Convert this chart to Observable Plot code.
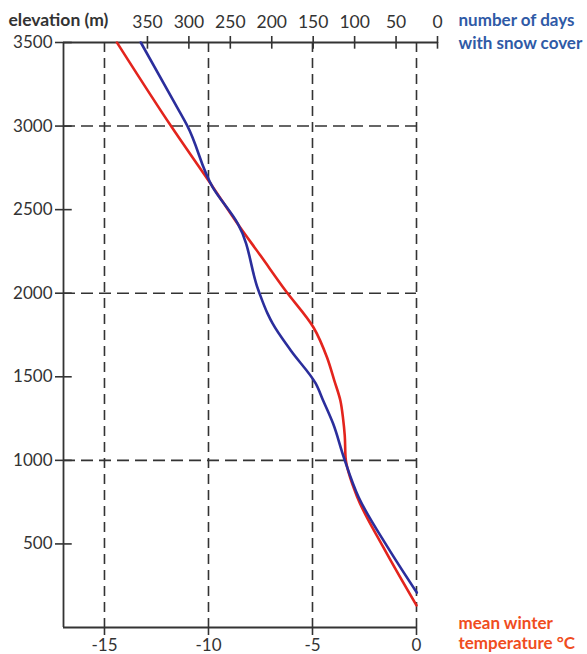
<!DOCTYPE html>
<html>
<head>
<meta charset="utf-8">
<script src="https://cdn.jsdelivr.net/npm/d3@7"></script>
<script src="https://cdn.jsdelivr.net/npm/@observablehq/plot@0.6"></script>
<style>
  html, body { margin: 0; padding: 0; background: #fff; }
  #chart svg { display: block; }
</style>
</head>
<body>
<div id="chart"></div>
<script>
// ---- data ----
const elevTicks = [500, 1000, 1500, 2000, 2500, 3000, 3500];
const tempTicks = [-15, -10, -5, 0];
const dayTicks = [350, 300, 250, 200, 150, 100, 50, 0];
const gridElev = [1000, 2000, 3000];

// mean winter temperature (°C) vs elevation (m)
const redElev = [132, 479, 778, 1017, 1150, 1250, 1358, 1477, 1615, 1795, 2016, 2225, 2417, 2630, 3000, 3500];
const redTemp = [0, -1.59, -2.84, -3.41, -3.45, -3.53, -3.66, -3.95, -4.3, -4.95, -6.3, -7.5, -8.61, -9.76, -11.8, -14.4];

// number of days with snow cover vs elevation (m)
const blueElev = [209, 479, 778, 1017, 1220, 1358, 1460, 1657, 1819, 1878, 2016, 2417, 2632, 3003, 3111, 3500];
const blueDays = [25, 60, 95, 113, 126, 138, 147, 177, 199, 205, 216, 241, 271, 302, 314, 358];

// ---- layout of the two x axes (top axis: days, bottom: temperature) ----
const dayToT = d => 1.0096 - 0.03984 * d;   // days axis position in temperature units
const tToDay = t => (1.0096 - t) / 0.03984;
const xMin = -16.97, xMax = dayToT(0);

const red = redElev.map((e, i) => ({e, t: redTemp[i]}));
const blue = blueElev.map((e, i) => ({e, d: blueDays[i]}));

const ink = "#333";
const dash = "10,6";
const fs = 17;

const chart = Plot.plot({
  width: 587,
  height: 654,
  marginLeft: 63,
  marginRight: 150,
  marginTop: 42,
  marginBottom: 27,
  style: {fontFamily: "Lato, 'Open Sans', sans-serif", fontSize: fs + "px", color: ink, background: "#fff"},
  x: {domain: [xMin, xMax]},
  y: {domain: [0, 3500]},
  marks: [
    // dashed grid
    Plot.ruleX(tempTicks, {x: d => d, y1: 3500, y2: 0, stroke: ink, strokeWidth: 1.6, strokeDasharray: dash}),
    Plot.ruleY(gridElev, {y: d => d, x1: xMin, x2: 0, stroke: ink, strokeWidth: 1.6, strokeDasharray: "12,6"}),
    // axis lines
    Plot.ruleX([xMin], {y1: 0, y2: 3500, stroke: ink, strokeWidth: 1.8}),
    Plot.ruleY([0], {x1: xMin, x2: 0, stroke: ink, strokeWidth: 1.8}),
    Plot.ruleY([3500], {x1: xMin, x2: xMax, stroke: ink, strokeWidth: 1.8}),
    // left axis
    Plot.axisY({ticks: elevTicks, anchor: "left", tickSize: 8, tickPadding: 3, tickFormat: d => String(d), label: null, color: ink, strokeWidth: 1.6, fontSize: fs}),
    Plot.ruleY(elevTicks, {y: d => d, x1: xMin, x2: xMin + 0.42, stroke: ink, strokeWidth: 1.6}),
    // bottom axis (temperature)
    Plot.axisX({ticks: tempTicks, anchor: "bottom", tickSize: 8, tickPadding: 3, tickFormat: d => String(d), label: null, color: ink, strokeWidth: 1.6, fontSize: fs}),
    // top axis (days)
    Plot.axisX({ticks: dayTicks.map(dayToT), anchor: "top", tickSize: 7, tickPadding: 8, tickFormat: t => String(Math.round(tToDay(t))), label: null, color: ink, strokeWidth: 1.6, fontSize: 17.5}),
    Plot.ruleX(dayTicks.map(dayToT), {x: d => d, y1: 3500, y2: 3460, stroke: ink, strokeWidth: 1.6}),
    // data lines
    Plot.line(red, {x: "t", y: "e", stroke: "#e3241d", strokeWidth: 2.6, curve: "monotone-y"}),
    Plot.line(blue, {x: d => dayToT(d.d), y: "e", stroke: "#2b2e9c", strokeWidth: 2.6, curve: "monotone-y"}),
    // titles
    Plot.text(["elevation (m)"], {frameAnchor: "top-left", dx: -55, dy: -22, lineAnchor: "middle", textAnchor: "start", fontWeight: "bold", fontSize: 17.5, fill: "#333"}),
    Plot.text(["number of days"], {frameAnchor: "top-right", dx: 21, dy: -22, lineAnchor: "middle", textAnchor: "start", fontWeight: "bold", fontSize: 17, fill: "#2f5aa6"}),
    Plot.text(["with snow cover"], {frameAnchor: "top-right", dx: 21, dy: 1, lineAnchor: "middle", textAnchor: "start", fontWeight: "bold", fontSize: 17, fill: "#2f5aa6"}),
    Plot.text(["mean winter"], {frameAnchor: "bottom-right", dx: 21, dy: -4, lineAnchor: "middle", textAnchor: "start", fontWeight: "bold", fontSize: 17, fill: "#f04d1e"}),
    Plot.text(["temperature °C"], {frameAnchor: "bottom-right", dx: 21, dy: 16, lineAnchor: "middle", textAnchor: "start", fontWeight: "bold", fontSize: 17, fill: "#f04d1e"})
  ]
});
document.getElementById("chart").appendChild(chart);
</script>
</body>
</html>
